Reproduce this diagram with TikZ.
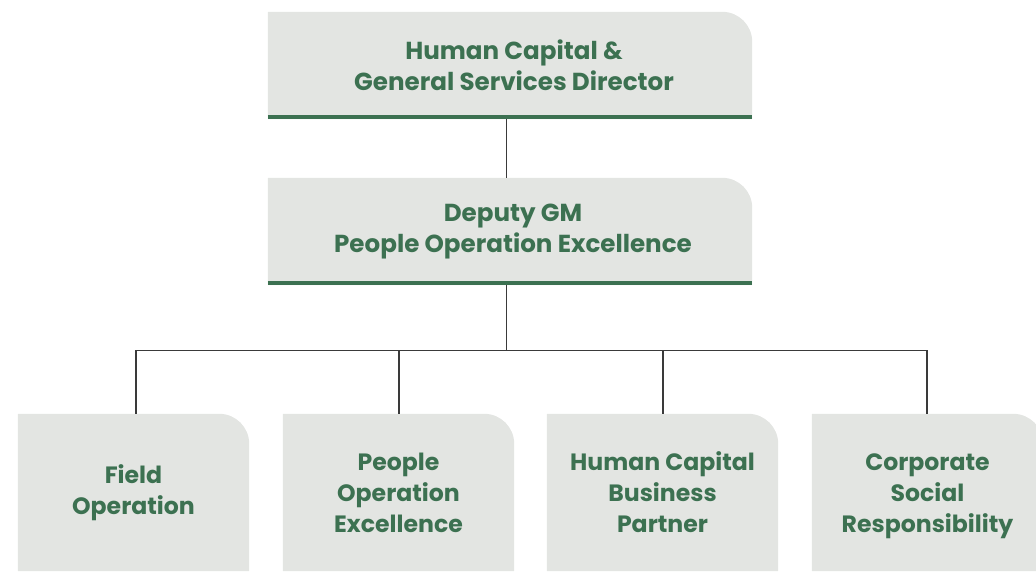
\documentclass[tikz,border=0pt]{standalone}
\usepackage{fontspec}
\setmainfont{Poppins}
\usetikzlibrary{backgrounds}
\definecolor{cardfill}{HTML}{E3E5E2}
\definecolor{cardgreen}{HTML}{3C7151}
\definecolor{linkgray}{HTML}{3A3A3A}
\tikzset{
  card/.style={inner sep=0pt, text=cardgreen, align=center},
  wide/.style={card, minimum width=484pt, minimum height=107pt,
    font=\bfseries\fontsize{24.6}{31}\selectfont},
  unit/.style={card, minimum width=231pt, minimum height=157pt,
    font=\bfseries\fontsize{23.6}{31}\selectfont},
  link/.style={draw=linkgray, line width=1.2pt},
  bar/.style={draw=cardgreen, line width=4pt},
  cardbg/.style={fill=cardfill},
}
\newcommand\cardbox[1]{%
  \fill[cardbg] (#1.south west) |- ([xshift=-30pt]#1.north east)
    arc[start angle=90, end angle=0, radius=30pt] -- (#1.south east) -- cycle;}
\begin{document}
\begin{tikzpicture}[x=1pt,y=1pt]
\useasboundingbox (0,0) rectangle (1036,571);
\clip (0,0) rectangle (1036,571);
\node[wide] (dir) at (510,505.5) {\hspace*{8pt}Human Capital \&\\\hspace*{8pt}General Services Director};
\node[wide] (dep) at (510,339.5) {\hspace*{6pt}Deputy GM\\\hspace*{6pt}People Operation Excellence};
\node[unit] (c1) at (133.5,78.5) {Field\\Operation};
\node[unit] (c2) at (398.5,78.5) {People\\Operation\\Excellence};
\node[unit] (c3) at (662.5,78.5) {Human Capital\\Business\\Partner};
\node[unit] (c4) at (927.5,78.5) {\vphantom{l}Corporate\\Social\\\smash{Responsibility}};
\begin{scope}[on background layer]
  \cardbox{dir}\cardbox{dep}\cardbox{c1}\cardbox{c2}\cardbox{c3}\cardbox{c4}
  \draw[bar] ([yshift=2pt]dir.south west) -- ([yshift=2pt]dir.south east);
  \draw[bar] ([yshift=2pt]dep.south west) -- ([yshift=2pt]dep.south east);
\end{scope}
\draw[link] ([xshift=-3.5pt]dir.south) -- ([xshift=-3.5pt]dep.north);
\coordinate (hub) at ([xshift=-3.5pt,yshift=-65pt]dep.south);
\draw[link] ([xshift=-3.5pt]dep.south) -- (hub);
\draw[link] ([xshift=2.5pt]c1.north) |- (hub) -| ([xshift=-0.5pt]c4.north);
\draw[link] ([xshift=0.5pt]c2.north) -- ([xshift=0.5pt]c2.north |- hub);
\draw[link] ([xshift=0.5pt]c3.north) -- ([xshift=0.5pt]c3.north |- hub);
\end{tikzpicture}
\end{document}
